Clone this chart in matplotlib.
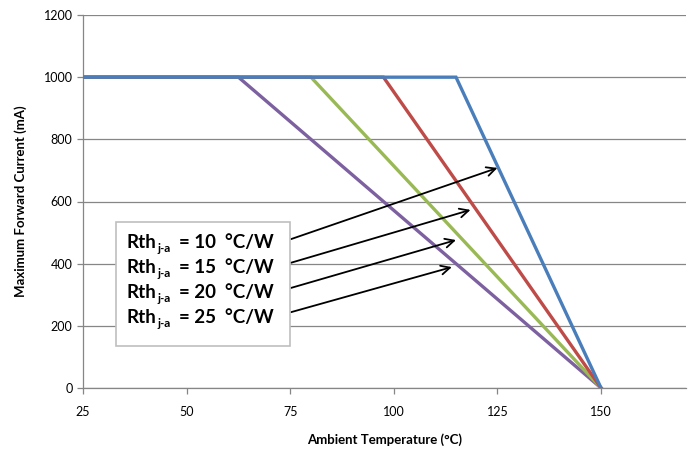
import numpy as np
import matplotlib.pyplot as plt

# derating curves, knee temperature for each thermal resistance
rth = [10, 15, 20, 25]
knee_temp = [115, 97.5, 80, 62.5]
t_start = 25
t_max = 150
i_max = 1000
colors = ['#4A7EBB', '#BE4B48', '#98B954', '#7D60A0']

# arrow tips (data) and arrow tails (data)
arrow_tip_x = [125, 118.5, 115, 114]
arrow_tip_y = [708, 573, 476, 389]
arrow_tail_x = [75.2, 75.2, 75.2, 75.2]
arrow_tail_y = [479, 403, 322, 244]

W, H = 688, 451
fig = plt.figure(figsize=(W / 100, H / 100), dpi=100)
ax = fig.add_axes([83 / W, 1 - 388 / H, (686 - 83) / W, (388 - 15) / H])

for k, c in zip(knee_temp[::-1], colors[::-1]):
    ax.plot([t_start, k, t_max], [i_max, i_max, 0], color=c, lw=2.4,
            solid_joinstyle='miter', zorder=3)

ax.set_xlim(25, 170.5)
ax.set_ylim(0, 1200)
ax.set_xticks([25, 50, 75, 100, 125, 150])
ax.set_yticks(np.arange(0, 1201, 200))
ax.grid(axis='y', color='#868686', lw=0.9)
ax.set_axisbelow(True)
for s in ['top', 'right']:
    ax.spines[s].set_visible(False)
for s in ['left', 'bottom']:
    ax.spines[s].set_color('#868686')
    ax.spines[s].set_linewidth(0.9)
ax.tick_params(colors='#868686', labelcolor='black', length=4, width=0.9, labelsize=9)
for lab in ax.get_xticklabels() + ax.get_yticklabels():
    lab.set_family('Lato')
ax.tick_params(axis='x', pad=9)

ax.set_xlabel('Ambient Temperature (°C)', family='Lato', fontweight='bold', fontsize=9.5, labelpad=11)
ax.set_ylabel('Maximum Forward Current (mA)', family='Lato', fontweight='bold', fontsize=9.5, labelpad=12)

for tx, ty, hx, hy in zip(arrow_tail_x, arrow_tail_y, arrow_tip_x, arrow_tip_y):
    ax.annotate('', xy=(hx, hy), xytext=(tx, ty),
                arrowprops=dict(arrowstyle='->', color='black', lw=1.3,
                                mutation_scale=16, shrinkA=0, shrinkB=0),
                zorder=5)

# text box
box = plt.Rectangle((116 / W, 1 - 346 / H), (290 - 116) / W, (346 - 222) / H,
                    transform=fig.transFigure, facecolor='white',
                    edgecolor='#BFBFBF', lw=1.2, zorder=4)
fig.patches.append(box)

base_y = [248, 273, 298, 323]
for r, by in zip(rth, base_y):
    fig.text(126 / W, 1 - by / H, 'Rth', family='Lato', fontweight='bold',
             fontsize=13.5, va='baseline', zorder=6)
    fig.text(157 / W, 1 - (by + 4) / H, 'j-a', family='Lato', fontweight='bold',
             fontsize=8.5, va='baseline', zorder=6)
    fig.text(179 / W, 1 - by / H, f'= {r}  °C/W', family='Lato', fontweight='bold',
             fontsize=13.5, va='baseline', zorder=6)

fig.savefig('out.png', dpi=100)
